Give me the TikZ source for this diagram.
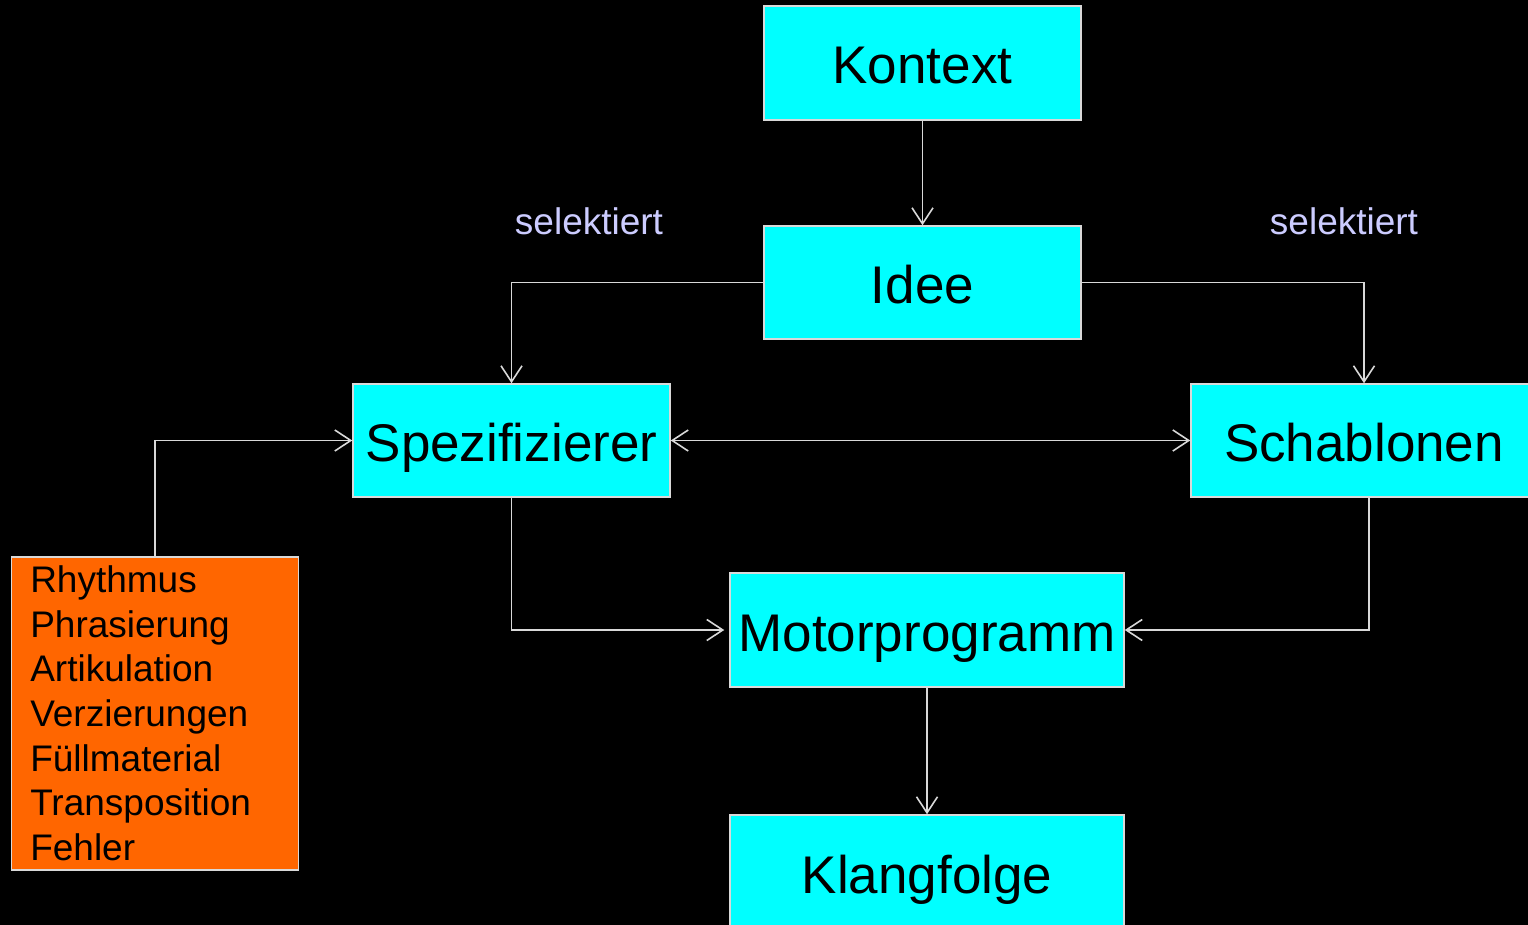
\documentclass[tikz,border=0pt]{standalone}
\usepackage{fontspec}
\setmainfont{Liberation Sans}
\usetikzlibrary{arrows.meta}
\definecolor{boxcyan}{HTML}{00FFFF}
\definecolor{boxorange}{HTML}{FF6600}
\definecolor{linegray}{HTML}{D9D9D9}
\definecolor{sellav}{HTML}{CCCCFF}
\tikzset{
  mainbox/.style={draw=linegray, line width=1.5pt, fill=boxcyan, inner sep=0pt,
    text height=42pt, text depth=0pt,
    font=\fontsize{53}{64}\selectfont, text=black},
  paramsbox/.style={draw=linegray, line width=1.5pt, fill=boxorange, inner xsep=19pt, inner ysep=0pt,
    text width=249pt, align=left, minimum height=313pt,
    font=\fontsize{37}{44.7}\selectfont, text=black},
  sellabel/.style={text=sellav, font=\fontsize{37}{44}\selectfont, inner sep=0pt},
  conn/.style={draw=linegray, line width=1.6pt},
  arr/.style={conn, -{Straight Barb[length=16pt,width=21pt,line width=1.6pt]}},
  darr/.style={conn, {Straight Barb[length=16pt,width=21pt,line width=1.6pt]}-{Straight Barb[length=16pt,width=21pt,line width=1.6pt]}}
}
\begin{document}
\begin{tikzpicture}[x=1pt,y=-1pt]
\fill[black] (0,0) rectangle (1528,925);
\useasboundingbox (0,0) rectangle (1528,925);
\node[mainbox, minimum width=317pt, minimum height=114pt] (kontext) at (922.5,63) {Kontext};
\node[mainbox, minimum width=317pt, minimum height=113pt] (idee) at (922.5,282.5) {Idee};
\node[mainbox, minimum width=317pt, minimum height=113pt] (spez) at (511.5,440.5) {Spezifizierer};
\node[mainbox, minimum width=346pt, minimum height=113pt] (schab) at (1364,440.5) {Schablonen};
\node[mainbox, minimum width=394pt, minimum height=114pt] (motor) at (927,630) {Motorprogramm};
\node[mainbox, minimum width=394pt, minimum height=114pt] (klang) at (927,872) {Klangfolge};
\node[paramsbox, anchor=north west] (params) at (10.5,556) {Rhythmus\\Phrasierung\\Artikulation\\Verzierungen\\Füllmaterial\\Transposition\\Fehler};
\node[sellabel] (sel1) at (589,221) {selektiert};
\node[sellabel] (sel2) at (1344,221) {selektiert};
\coordinate (schabout) at ([xshift=5pt]schab.south);
\draw[arr] (kontext.south) -- (idee.north);
\draw[arr] (idee.west) -| (spez.north);
\draw[arr] (idee.east) -| (schab.north);
\draw[darr] (spez.east) -- (schab.west);
\draw[arr] (params.north) |- (spez.west);
\draw[arr, shorten >=5pt] (spez.south) |- (motor.west);
\draw[arr] (schabout) |- (motor.east);
\draw[arr] (motor.south) -- (klang.north);
\end{tikzpicture}
\end{document}
